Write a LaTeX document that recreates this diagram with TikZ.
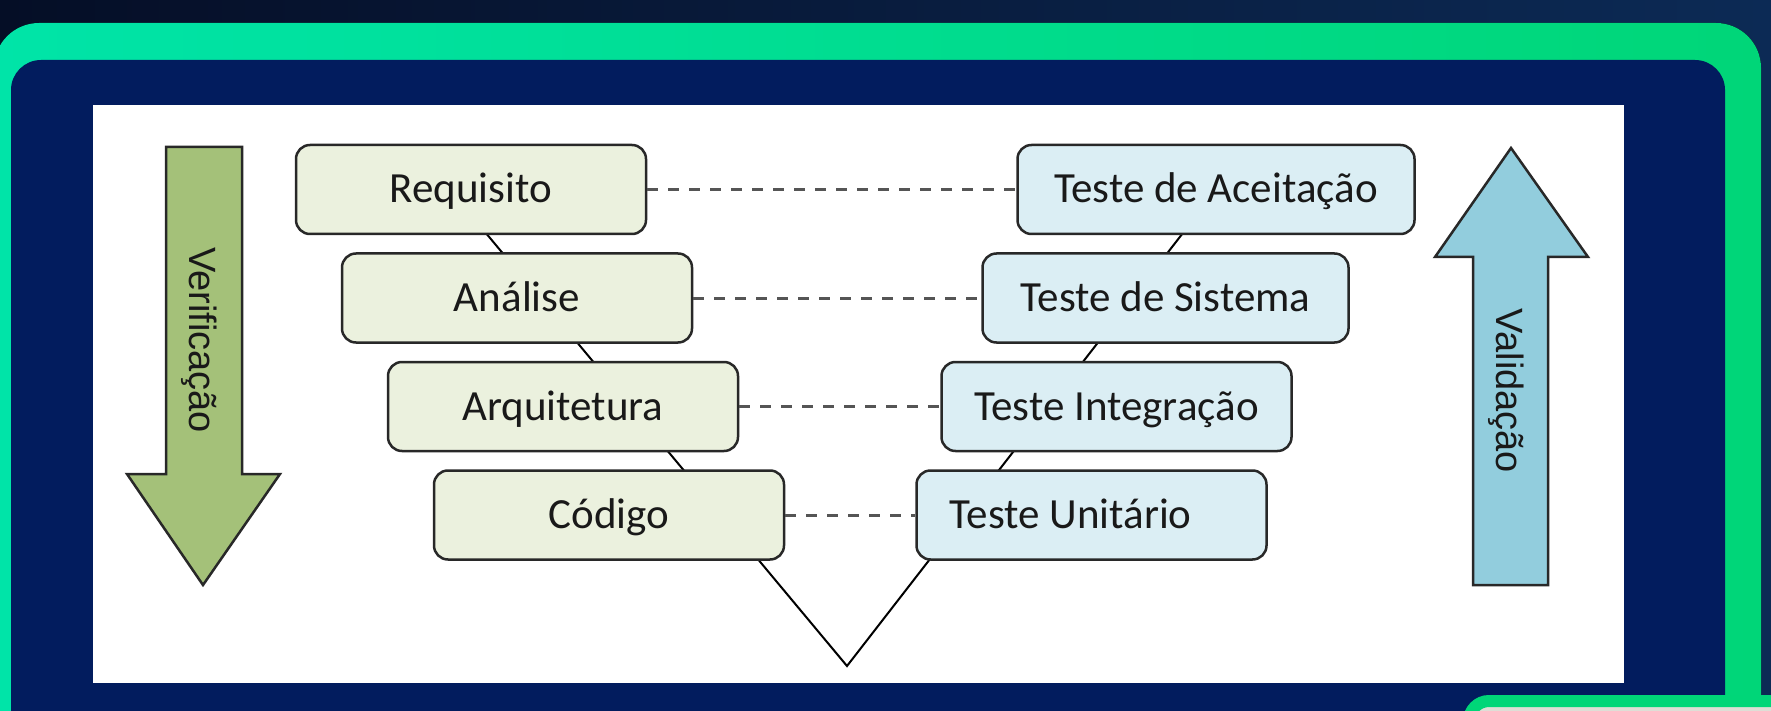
\documentclass[tikz,border=0pt]{standalone}
\usepackage{fontspec}
\setmainfont{Carlito}
\newfontfamily\arialfont{Liberation Sans}
\usepackage{tikz}
\usetikzlibrary{positioning}

\definecolor{fundoesq}{RGB}{5,14,38}
\definecolor{fundodir}{RGB}{12,42,85}
\definecolor{verdeesq}{RGB}{0,228,168}
\definecolor{verdedir}{RGB}{0,214,120}
\definecolor{azulmoldura}{RGB}{2,28,94}
\definecolor{cinzaclaro}{RGB}{222,222,214}
\definecolor{caixaverde}{RGB}{235,241,222}
\definecolor{caixaazul}{RGB}{219,238,244}
\definecolor{setaverde}{RGB}{164,193,121}
\definecolor{setaazul}{RGB}{146,205,221}
\definecolor{borda}{RGB}{40,40,40}
\definecolor{tracejado}{RGB}{85,85,85}

\begin{document}
\begin{tikzpicture}[x=1pt, y=-1pt,
	etapa/.style={rounded corners=14pt, line width=2.5pt, draw=borda, text=black!90,
		minimum height=89pt, inner sep=0pt, text height=31pt, text depth=4pt,
		font=\fontsize{43}{50}\selectfont},
	projeto/.style={etapa, minimum width=350pt, fill=caixaverde},
	teste/.style={etapa, minimum width=350pt, fill=caixaazul},
	ligacao/.style={line width=3pt, draw=tracejado, dash pattern=on 11pt off 10pt},
	seta/.style={line width=2.5pt, draw=borda, line join=miter},
	rotulo/.style={rotate=-90, text=black!90, font=\arialfont\fontsize{38}{44}\selectfont}]
						\useasboundingbox (0,0) rectangle (1771,711);

						% Add the frame
						\fill[left color=fundoesq, right color=fundodir] (0,0) rectangle (1771,711);
						\fill[left color=verdeesq, right color=verdedir, rounded corners=45pt] (-6,23) rectangle (1761,790);
						\fill[azulmoldura, rounded corners=30pt] (11,60) rectangle (1725,790);
						\draw[line width=12pt, draw=verdedir, fill=cinzaclaro, rounded corners=20pt] (1469,701) rectangle (1830,790);
						\fill[white] (93,105) rectangle (1624,683);

						% Add the V
						\coordinate (vtip) at (847,666);
						\coordinate (vesq) at (475,220);
						\coordinate (vdir) at (1193,220);
						\draw[line width=2pt] (vesq) -- (vtip) -- (vdir);

						% Add the stages
						\node[projeto] (req) at (471,189.5) {Requisito};
						\node[projeto,
							  below=17pt of req,
							  xshift=46pt] (ana) {Análise};
						\node[projeto,
							  below=17pt of ana,
							  xshift=46pt] (arq) {Arquitetura};
						\node[projeto,
							  below=17pt of arq,
							  xshift=46pt] (cod) {Código};

						\node[teste,
							  minimum width=397pt,
							  right=369pt of req] (acei) {Teste de Aceitação};
						\node[teste,
							  minimum width=366pt,
							  right=288pt of ana] (sist) {Teste de Sistema};
						\node[teste,
							  right=201pt of arq] (integ) {Teste Integração};
						\node[teste,
							  right=130pt of cod] (unit) {\hspace*{-42pt}Teste Unitário};

						\foreach \a/\b in {req/acei, ana/sist, arq/integ, cod/unit}
							\draw[ligacao] (\a) -- (\b);

						% Add the arrows
						\draw[seta, fill=setaverde] (166,147) -- (242,147) -- (242,474) -- (280,474)
							-- (203,585) -- (127,474) -- (166,474) -- cycle;
						\node[rotulo] (verif) at (199,340) {Verificação};
						\draw[seta, fill=setaazul] (1473,585) -- (1548,585) -- (1548,257) -- (1588,257)
							-- (1511,148) -- (1435,257) -- (1473,257) -- cycle;
						\node[rotulo] (valid) at (1506,391) {Validação};
					\end{tikzpicture}
\end{document}
